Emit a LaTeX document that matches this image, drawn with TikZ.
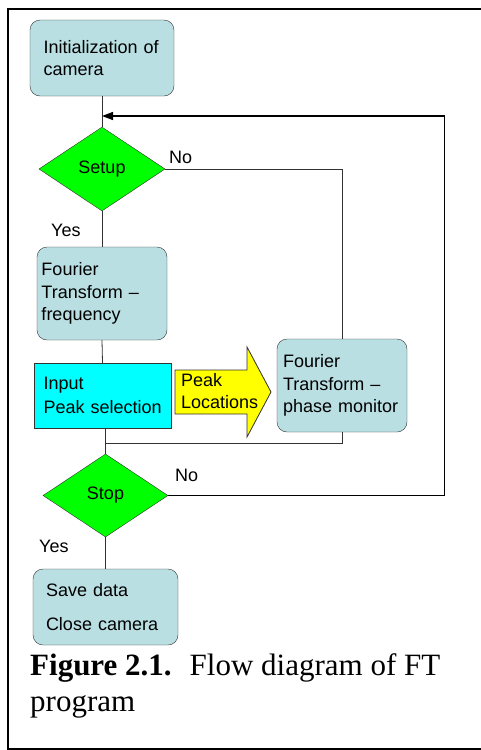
\documentclass[tikz,border=0pt]{standalone}
\usepackage{fontspec}
\setmainfont{Liberation Serif}
\setsansfont{Liberation Sans}
\usetikzlibrary{shapes.geometric, arrows.meta, positioning, calc}
\definecolor{boxblue}{RGB}{185, 223, 227}
\definecolor{decgreen}{RGB}{0, 255, 0}
\definecolor{inputcyan}{RGB}{0, 255, 255}
\definecolor{peakyellow}{RGB}{255, 255, 0}
\definecolor{edgegray}{RGB}{50, 50, 50}

\tikzset{
  procbox/.style={draw=edgegray, fill=boxblue, rounded corners=10pt, align=left,
    font=\sffamily\fontsize{18}{22.5}\selectfont, inner ysep=0pt},
  inputbox/.style={draw=edgegray, fill=inputcyan, align=left,
    font=\sffamily\fontsize{18}{22.5}\selectfont, inner ysep=0pt},
  decision/.style={diamond, draw=edgegray, fill=decgreen, inner sep=0pt,
    font=\sffamily\fontsize{18}{22}\selectfont},
  lbl/.style={font=\sffamily\fontsize{18}{22}\selectfont, inner sep=0pt, anchor=west},
  flow/.style={draw=edgegray, line width=0.8pt},
  loopback/.style={draw=black, line width=1.3pt, -{Triangle[length=11pt, width=8pt]}},
  peakarrow/.style={draw=edgegray, line width=0.8pt, fill=peakyellow},
  caption/.style={font=\fontsize{31}{36}\selectfont, align=left, inner sep=0pt}
}

\begin{document}
\begin{tikzpicture}[x=1pt, y=-1pt]
  \useasboundingbox (0,0) rectangle (481,750);

  % Frame of the figure
  \draw[line width=1.2pt] (481,9) -- (8,9) -- (8,749) -- (481,749);

  % Main column
  \node[procbox, text width=117pt, inner xsep=13.5pt, minimum height=76pt] (init) at (102,58)
    {Initialization of\\camera};
  \node[decision, minimum width=126pt, minimum height=84pt] (setup) at (102,169) {Setup};
  \node[procbox, text width=121pt, inner xsep=4.5pt, minimum height=93pt] (ftf) at (102,293.5)
    {Fourier\\Transform --\\frequency};
  \node[inputbox, text width=118pt, inner xsep=9.5pt, minimum height=65pt] (input) at (102.5,395.5)
    {Input\\[2pt]\mbox{Peak selection}};
  \node[decision, minimum width=125pt, minimum height=83pt] (stop) at (105.5,495.5) {Stop};
  \node[procbox, text width=119pt, inner xsep=13pt, minimum height=76pt] (save) at (105.5,607)
    {Save data\\[11pt]Close camera};

  % Side branch
  \node[procbox, text width=118pt, inner xsep=6pt, minimum height=93pt] (phase) at (342,385.5)
    {Fourier\\Transform --\\phase monitor};

  % Peak locations arrow
  \draw[peakarrow] (175,370) -- (247,370) -- (247,347) -- (271,392) -- (247,437) -- (247,414) -- (175,414) -- cycle;
  \node[lbl, align=left] (peak) at (181,391.5) {Peak\\Locations};

  % Branch labels
  \node[lbl] (setupno) at (169,157) {No};
  \node[lbl] (setupyes) at (51,230) {Yes};
  \node[lbl] (stopno) at (175,475) {No};
  \node[lbl] (stopyes) at (39,546) {Yes};

  % Connectors
  \coordinate (fbin) at (init.south |- 0,116);
  \coordinate (merge) at (stop.north |- 0,443);
  \draw[flow] (init.south) -- (setup.north);
  \draw[flow] (setup.south) -- (ftf.north);
  \draw[flow] (ftf.south) -- (input.north);
  \draw[flow] (setup.east) -| (phase.north);
  \draw[flow] (stop.north |- input.south) -- (stop.north);
  \draw[flow] (phase.south) |- (merge);
  \draw[flow] (stop.south) -- (save.north);
  \draw[loopback] (stop.east) -- ++(276,0) |- (fbin);

  % Caption
  \node[caption, anchor=base west] (cap) at (30,711)
    {\textbf{Figure 2.1.}\hspace{18pt}Flow diagram of FT\\program};
\end{tikzpicture}
\end{document}
